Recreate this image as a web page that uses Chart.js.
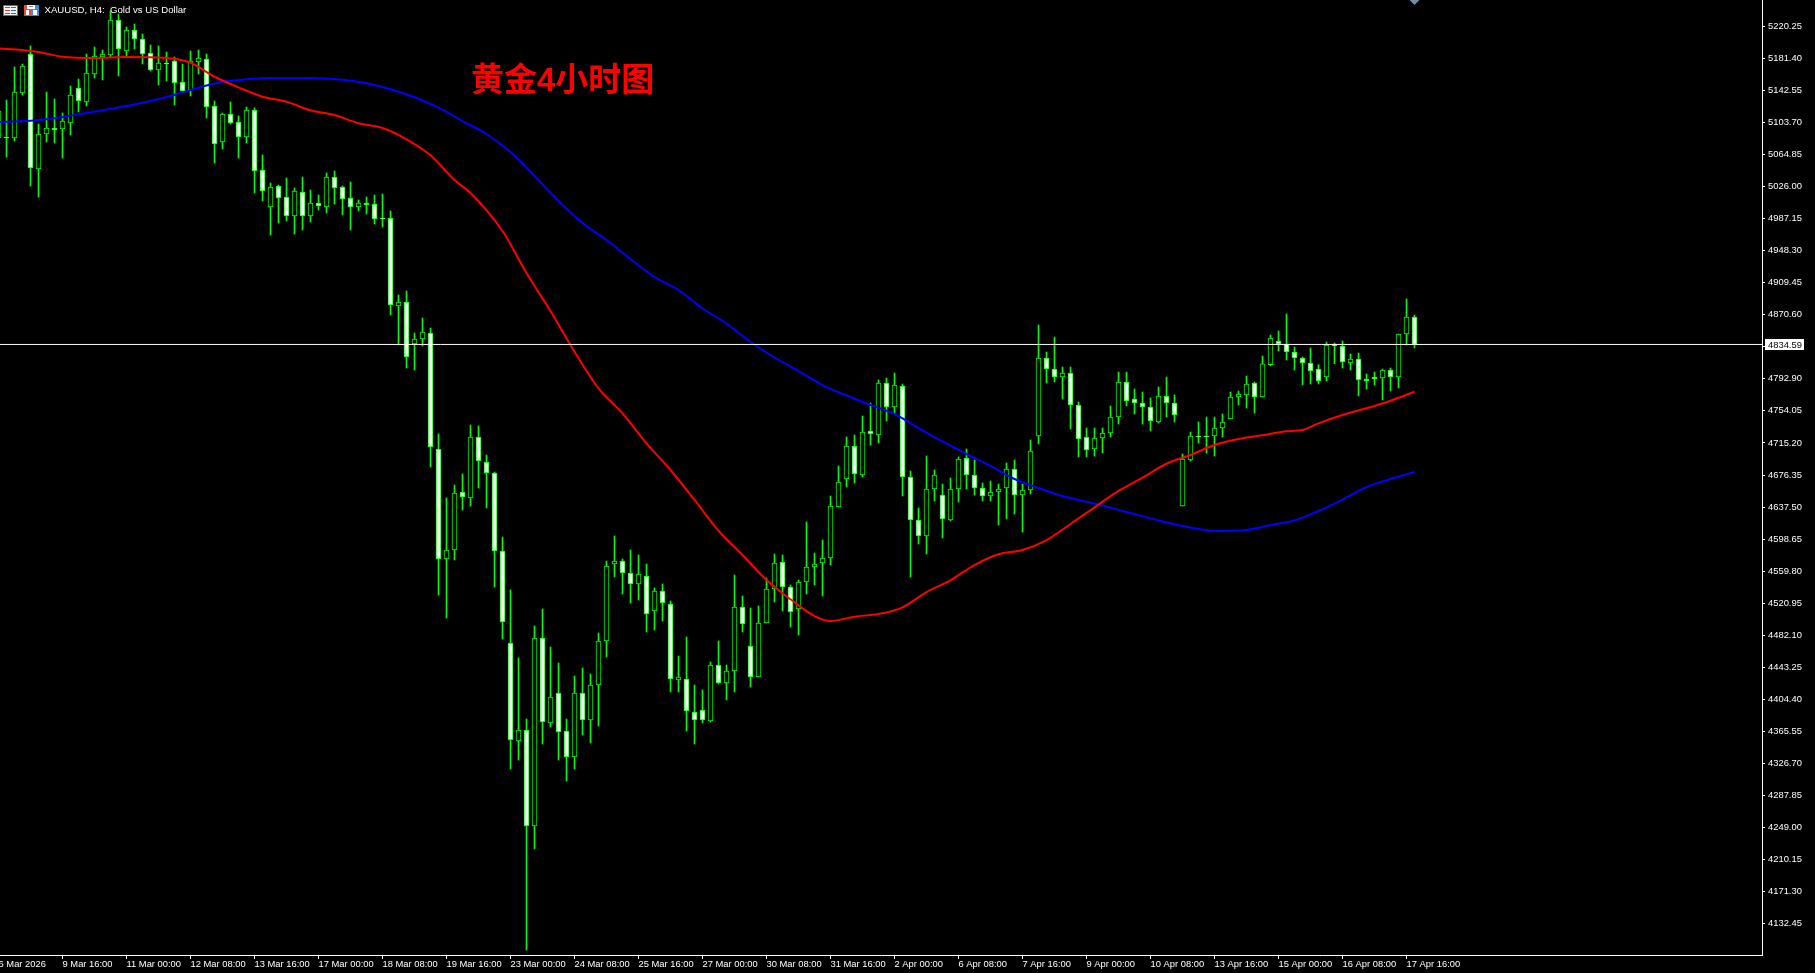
<!DOCTYPE html>
<html>
<head>
<meta charset="utf-8">
<title>XAUUSD H4</title>
<style>
html,body{margin:0;padding:0;background:#000;overflow:hidden}
canvas{display:block}
</style>
<script src="https://cdn.jsdelivr.net/npm/chart.js@4"></script>
</head>
<body>
<canvas id="c" width="1815" height="973"></canvas>
<script>
const chartHeader = "XAUUSD, H4:  Gold vs US Dollar";
const titleParts = ["黄金", "4", "小时图"];
const lastPrice = 4834.59;
const firstBar = -1;
const opens = [5084.85,5086.06,5084.85,5139.40,5186.67,5047.27,5089.70,5096.97,5095.76,5103.03,5145.46,5128.49,5162.43,5183.04,5185.46,5227.89,5190.31,5215.77,5204.86,5187.89,5167.28,5175.76,5178.19,5152.73,5143.04,5176.98,5180.61,5123.64,5080.00,5113.94,5104.24,5086.06,5118.79,5046.06,5001.21,5026.66,5013.33,4990.31,5019.39,4990.31,5006.06,5001.21,5037.57,5025.45,5012.12,5001.21,5006.06,5004.85,4987.88,4987.88,4881.21,4886.06,4835.15,4841.21,4848.48,4707.87,4574.53,4585.44,4655.75,4648.48,4722.42,4692.12,4678.79,4584.23,4472.71,4353.92,4367.26,4250.88,4478.77,4375.74,4412.10,4366.04,4334.53,4412.10,4379.38,4421.80,4475.13,4568.47,4572.11,4557.56,4544.23,4553.92,4511.50,4535.75,4519.98,4427.86,4429.07,4389.08,4391.50,4378.17,4446.04,4424.24,4438.77,4516.35,4469.07,4431.50,4496.95,4538.17,4570.89,4540.59,4513.92,4546.65,4564.84,4569.68,4575.74,4637.56,4671.51,4711.51,4676.36,4729.69,4724.85,4787.87,4758.78,4784.24,4673.94,4621.81,4602.42,4659.39,4652.11,4621.81,4659.39,4696.97,4676.36,4660.60,4650.90,4655.75,4660.60,4683.63,4652.11,4658.18,4723.64,4818.18,4804.84,4795.15,4799.99,4761.21,4722.42,4707.87,4721.21,4727.27,4746.66,4789.09,4768.48,4763.63,4758.78,4740.60,4772.12,4763.63,4638.78,4694.54,4723.64,4723.64,4723.64,4733.33,4744.24,4770.91,4773.33,4787.87,4770.91,4810.03,4838.79,4835.15,4825.45,4818.18,4812.12,4804.84,4795.15,4833.93,4832.72,4812.12,4816.96,4792.72,4795.15,4793.93,4803.63,4795.15,4847.27,4867.87];
const highs = [5117.58,5130.91,5170.92,5174.55,5196.37,5101.82,5140.61,5132.13,5115.15,5147.88,5156.37,5186.67,5195.16,5191.52,5238.80,5235.16,5219.40,5223.04,5210.92,5197.58,5196.37,5189.10,5183.04,5174.55,5190.31,5191.52,5186.67,5129.70,5115.15,5128.49,5111.52,5122.43,5121.22,5064.24,5030.30,5027.88,5036.36,5024.24,5037.57,5021.82,5015.75,5042.42,5044.85,5026.66,5031.51,5009.70,5013.33,5015.75,5016.97,4996.36,4894.54,4899.39,4848.48,4866.66,4854.54,4726.06,4648.48,4664.24,4677.57,4736.97,4735.76,4700.60,4680.00,4601.20,4536.96,4454.52,4380.59,4493.31,4513.92,4467.86,4448.46,4380.59,4432.71,4442.40,4435.13,4484.83,4572.11,4602.42,4574.53,4585.44,4579.38,4568.47,4539.38,4544.23,4523.62,4456.95,4479.98,4421.80,4415.74,4449.67,4475.13,4446.04,4555.14,4529.68,4515.14,4517.56,4551.50,4580.59,4579.38,4543.02,4549.08,4619.38,4581.80,4597.56,4650.90,4687.27,4722.42,4724.85,4747.88,4763.63,4791.51,4793.93,4799.99,4786.66,4681.21,4636.35,4699.39,4682.42,4665.45,4672.72,4698.18,4707.87,4694.54,4666.66,4669.09,4665.45,4690.91,4694.54,4665.45,4718.78,4858.18,4825.45,4843.63,4807.27,4807.27,4764.85,4733.33,4733.33,4733.33,4760.00,4801.21,4801.21,4780.60,4776.97,4769.69,4783.03,4795.15,4773.33,4701.82,4728.48,4740.60,4746.66,4746.66,4750.30,4776.97,4778.18,4796.36,4789.09,4820.60,4846.06,4850.90,4871.51,4831.51,4819.39,4830.30,4810.03,4837.57,4836.36,4838.79,4823.03,4824.24,4798.78,4801.21,4804.84,4806.05,4847.27,4889.69,4870.30];
const lows = [5084.85,5061.81,5081.21,5136.97,5026.66,5013.33,5080.00,5078.79,5060.60,5088.48,5116.36,5123.64,5157.58,5155.16,5183.04,5160.01,5184.25,5192.73,5174.55,5166.07,5149.10,5153.95,5124.85,5141.82,5135.76,5162.43,5109.09,5054.54,5071.51,5101.82,5060.60,5078.79,5018.18,5008.49,4967.27,4981.82,4984.24,4968.49,4973.34,4983.03,4997.58,4993.94,5004.85,4991.52,4973.34,4996.36,4992.73,4980.61,4976.97,4870.30,4833.93,4806.05,4803.63,4832.72,4686.06,4530.89,4503.01,4573.32,4633.93,4638.78,4660.60,4636.35,4540.59,4477.56,4319.98,4330.89,4100.58,4223.00,4350.29,4370.89,4330.89,4305.44,4319.98,4361.19,4351.50,4372.10,4455.74,4552.71,4532.10,4521.19,4524.83,4486.04,4488.47,4499.37,4413.31,4413.31,4366.04,4350.29,4375.74,4376.95,4423.03,4403.62,4413.31,4486.04,4419.37,4431.50,4496.95,4522.40,4511.50,4492.10,4482.40,4532.10,4543.02,4529.68,4567.26,4637.56,4661.82,4666.66,4673.94,4712.72,4715.15,4741.81,4751.51,4650.90,4552.71,4592.71,4580.59,4644.84,4599.99,4620.59,4643.63,4659.39,4652.11,4644.84,4644.84,4615.75,4623.02,4629.08,4607.14,4653.33,4713.93,4787.87,4789.09,4768.48,4732.12,4698.18,4698.18,4699.39,4703.03,4722.42,4738.18,4760.00,4750.30,4738.18,4729.69,4739.39,4746.66,4740.60,4638.78,4693.33,4715.15,4703.03,4699.39,4722.42,4744.24,4761.21,4757.57,4751.51,4770.91,4808.82,4826.66,4815.75,4803.63,4785.45,4786.66,4786.66,4790.30,4811.24,4806.05,4803.63,4772.12,4780.60,4785.45,4767.27,4778.18,4781.82,4833.93,4830.30];
const closes = [5117.58,5084.85,5140.61,5172.13,5048.48,5089.70,5096.97,5094.55,5105.45,5136.97,5129.70,5163.64,5184.25,5186.67,5227.89,5192.73,5215.77,5204.86,5186.67,5167.28,5175.76,5174.55,5151.52,5141.82,5178.19,5181.82,5122.43,5077.58,5113.94,5103.03,5086.06,5118.79,5044.85,5020.60,5025.45,5012.12,4990.31,5020.60,4990.31,5006.06,5002.43,5037.57,5024.24,5010.91,5001.21,5006.06,5003.64,4986.67,4986.67,4882.42,4886.06,4819.39,4841.21,4849.69,4710.30,4574.53,4585.44,4654.54,4649.69,4722.42,4693.33,4678.79,4584.23,4498.16,4355.13,4367.26,4250.88,4478.77,4376.95,4407.25,4364.83,4334.53,4412.10,4379.38,4421.80,4475.13,4566.05,4572.11,4557.56,4544.23,4556.35,4507.86,4535.75,4521.19,4429.07,4431.50,4390.29,4379.38,4379.38,4446.04,4424.24,4438.77,4516.35,4495.74,4431.50,4496.95,4538.17,4569.68,4540.59,4510.28,4546.65,4564.84,4568.47,4575.74,4638.78,4667.87,4711.51,4677.57,4728.48,4726.06,4787.87,4758.78,4785.45,4673.94,4621.81,4602.42,4659.39,4676.36,4623.02,4659.39,4695.75,4676.36,4660.60,4650.90,4655.75,4659.39,4683.63,4652.11,4658.18,4705.45,4818.18,4804.84,4795.15,4799.99,4761.21,4719.99,4706.66,4721.21,4727.27,4746.66,4789.09,4766.06,4763.63,4758.78,4741.81,4772.12,4763.63,4749.09,4695.75,4723.64,4722.42,4722.42,4733.33,4740.60,4770.91,4774.54,4786.66,4770.91,4811.24,4842.42,4835.15,4825.45,4818.18,4812.12,4802.42,4790.30,4833.93,4832.72,4813.33,4816.96,4791.51,4790.30,4792.72,4803.63,4795.15,4847.27,4867.87,4834.59];
const redIdx = [-1,2,4,7,11,15,20,23,26,29,32,35,38,41,44,47,50,53,56,58,62,65,68,71,74,77,80,83,86,89,92,95,98,101,103,106,109,112,115,118,121,124,127,130,133,136,139,142,145,148,151,154,157,160,162,164,167,170,173,176];
const redVals = [5193.3,5191.5,5189.1,5183.4,5181.8,5183.0,5181.8,5176.1,5159.1,5146.3,5134.9,5128.8,5118.4,5112.7,5102.7,5097.0,5083.3,5063.9,5033.9,5018.2,4972.1,4921.2,4875.1,4825.8,4781.4,4751.1,4714.8,4682.4,4646.1,4608.8,4579.4,4549.1,4525.7,4505.4,4499.4,4504.6,4507.9,4516.0,4534.5,4548.7,4567.2,4580.2,4585.4,4597.5,4617.0,4637.2,4657.0,4673.1,4690.0,4700.6,4712.7,4720.0,4724.5,4729.3,4730.9,4739.0,4749.1,4757.2,4766.4,4777.3];
const blueIdx = [-1,3,6,9,12,15,18,21,24,27,30,33,38,42,45,48,51,54,57,60,63,66,69,72,75,78,81,84,87,90,93,96,99,102,105,108,111,114,117,120,123,126,129,132,136,140,144,148,151,155,158,161,164,167,170,173,176];
const blueVals = [5104.2,5105.8,5108.7,5113.6,5118.4,5123.6,5129.7,5137.3,5145.8,5153.1,5156.0,5157.6,5157.6,5155.5,5151.1,5143.9,5134.2,5121.6,5105.4,5089.7,5067.9,5038.8,5008.5,4981.8,4961.2,4938.2,4916.4,4900.6,4878.2,4860.0,4837.6,4818.8,4802.4,4785.4,4772.7,4761.2,4750.3,4733.3,4717.0,4701.8,4687.3,4671.5,4660.6,4650.9,4641.8,4631.5,4621.2,4612.7,4608.5,4609.7,4615.7,4621.2,4632.7,4646.6,4661.8,4671.5,4680.0];
const timeLabels = ["6 Mar 2026","9 Mar 16:00","11 Mar 00:00","12 Mar 08:00","13 Mar 16:00","17 Mar 00:00","18 Mar 08:00","19 Mar 16:00","23 Mar 00:00","24 Mar 08:00","25 Mar 16:00","27 Mar 00:00","30 Mar 08:00","31 Mar 16:00","2 Apr 00:00","6 Apr 08:00","7 Apr 16:00","9 Apr 00:00","10 Apr 08:00","13 Apr 16:00","15 Apr 00:00","16 Apr 08:00","17 Apr 16:00"];
const timeTickBars = [-1,7,15,23,31,39,47,55,63,71,79,87,95,103,111,119,127,135,143,151,159,167,175];
const priceTicks = [5220.25,5181.40,5142.55,5103.70,5064.85,5026.00,4987.15,4948.30,4909.45,4870.60,4831.75,4792.90,4754.05,4715.20,4676.35,4637.50,4598.65,4559.80,4520.95,4482.10,4443.25,4404.40,4365.55,4326.70,4287.85,4249.00,4210.15,4171.30,4132.45];

const GREEN = "#00ff00";
const FONT = '"Liberation Sans", Arial, sans-serif';
const bars = opens.map((_, k) => k + firstBar);
const bodyColors = opens.map((o, k) => closes[k] >= o ? "#000000" : "#ffffff");

function toPoints(xs, ys) { return xs.map((x, k) => ({ x, y: ys[k] })); }

const sketchPlugin = {
  id: "sketch",
  afterDraw(chart) {
    const ctx = chart.ctx, xs = chart.scales.x, ys = chart.scales.y;
    ctx.save();
    // last-price tag
    const py = Math.round(ys.getPixelForValue(lastPrice));
    ctx.fillStyle = "#ffffff";
    ctx.fillRect(1765, py - 5, 39, 11);
    ctx.fillStyle = "#000000";
    ctx.font = "9.4px " + FONT;
    ctx.textBaseline = "middle";
    ctx.textAlign = "left";
    ctx.fillText(lastPrice.toFixed(2), 1768, py + 1);
    // header icons
    ctx.fillStyle = "#f4f4f4"; ctx.fillRect(3, 5, 15, 11);
    ctx.strokeStyle = "#d8402c"; ctx.lineWidth = 1; ctx.strokeRect(3.5, 5.5, 14, 10);
    ctx.fillStyle = "#d8402c"; ctx.fillRect(5, 7, 5, 1); ctx.fillRect(5, 10, 5, 1); ctx.fillRect(5, 13, 5, 1);
    ctx.fillStyle = "#2a6db0"; ctx.fillRect(11, 7, 5, 1); ctx.fillRect(11, 10, 5, 1); ctx.fillRect(11, 13, 5, 1);
    ctx.fillStyle = "#e0503c"; ctx.fillRect(24, 5, 7, 11);
    ctx.fillStyle = "#3a8fd0"; ctx.fillRect(31, 5, 8, 11);
    ctx.fillStyle = "#ffffff"; ctx.fillRect(27, 5, 8, 4); ctx.fillRect(26, 10, 3, 5); ctx.fillRect(33, 10, 4, 5);
    ctx.fillStyle = "#777777"; ctx.fillRect(29, 6, 4, 1);
    // header text
    ctx.fillStyle = "#ffffff";
    ctx.font = "9.6px " + FONT;
    ctx.fillText(chartHeader, 44.5, 10.5);
    // chart annotation
    ctx.fillStyle = "#ff0000";
    ctx.textBaseline = "alphabetic";
    let tx = 471;
    ctx.font = 'bold 33px "Noto Sans CJK SC"';
    ctx.fillText(titleParts[0], tx, 90.5); tx += ctx.measureText(titleParts[0]).width;
    ctx.font = 'bold 33px "Liberation Sans"';
    ctx.fillText(titleParts[1], tx, 90.5); tx += ctx.measureText(titleParts[1]).width;
    ctx.font = 'bold 33px "Noto Sans CJK SC"';
    ctx.fillText(titleParts[2], tx, 90.5);
    // marker at top of the last bar
    const mx = xs.getPixelForValue(bars[bars.length - 1]);
    ctx.fillStyle = "#6f8fa8";
    ctx.beginPath(); ctx.moveTo(mx - 5, 0); ctx.lineTo(mx + 5, 0); ctx.lineTo(mx, 5); ctx.closePath(); ctx.fill();
    ctx.restore();
  }
};

new Chart(document.getElementById("c"), {
  type: "bar",
  data: {
    datasets: [
      { type: "line", label: "Last", order: 0, data: toPoints([-0.8125, 219.4375], [lastPrice, lastPrice]),
        borderColor: "#ffffff", borderWidth: 1, pointRadius: 0, tension: 0 },
      { type: "line", label: "MA red", order: 1, data: toPoints(redIdx, redVals),
        borderColor: "#ff0000", borderWidth: 2, pointRadius: 0, cubicInterpolationMode: "monotone" },
      { type: "line", label: "MA blue", order: 2, data: toPoints(blueIdx, blueVals),
        borderColor: "#0000ff", borderWidth: 2, pointRadius: 0, cubicInterpolationMode: "monotone" },
      { label: "Body", order: 3, grouped: false, barThickness: 5,
        data: bars.map((x, k) => ({ x, y: [opens[k], closes[k]] })),
        backgroundColor: bodyColors, borderColor: GREEN, borderWidth: 1, borderSkipped: false },
      { label: "Wick", order: 4, grouped: false, barThickness: 1,
        data: bars.map((x, k) => ({ x, y: [lows[k], highs[k]] })),
        backgroundColor: GREEN, borderWidth: 0 }
    ]
  },
  options: {
    responsive: false,
    devicePixelRatio: 1,
    animation: false,
    events: [],
    layout: { padding: 0 },
    plugins: { legend: { display: false }, tooltip: { enabled: false }, title: { display: false } },
    scales: {
      x: {
        type: "linear", offset: false, min: -0.8125, max: 219.4375,
        afterBuildTicks(s) { s.ticks = timeTickBars.map(v => ({ value: v })); },
        afterFit(s) { s.height = 18; s.paddingLeft = 0; s.paddingRight = 0; },
        grid: { offset: false, drawOnChartArea: false, drawTicks: true, tickLength: 4, color: "#ffffff" },
        border: { display: true, color: "#ffffff", width: 1 },
        ticks: {
          autoSkip: false, maxRotation: 0, minRotation: 0, align: "start", padding: 0,
          color: "#ffffff", font: { family: FONT, size: 9.4 },
          callback(v, i) { return timeLabels[i]; }
        }
      },
      y: {
        type: "linear", position: "right", min: 4094.52, max: 5252.13,
        afterBuildTicks(s) { s.ticks = priceTicks.map(v => ({ value: v })); },
        afterFit(s) { s.width = 53; s.paddingTop = 0; s.paddingBottom = 0; },
        grid: { drawOnChartArea: false, drawTicks: true, tickLength: 3, color: "#ffffff" },
        border: { display: true, color: "#ffffff", width: 1 },
        ticks: {
          autoSkip: false, padding: 3, color: "#ffffff", font: { family: FONT, size: 9.4 },
          callback(v) { return v.toFixed(2); }
        }
      }
    }
  },
  plugins: [sketchPlugin]
});
</script>
</body>
</html>
